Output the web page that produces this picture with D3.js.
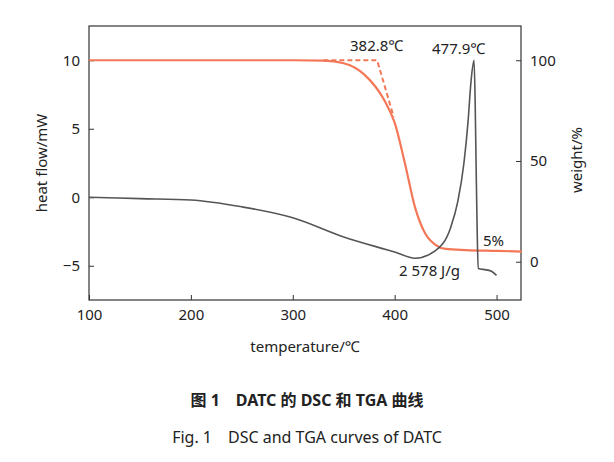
<!DOCTYPE html><html><head><meta charset="utf-8"><script src="https://cdn.jsdelivr.net/npm/d3@7"></script>
<style>body{margin:0;background:#fff}text{font-family:"Noto Sans","Noto Sans CJK SC",sans-serif;fill:#222}</style></head><body><svg id="c" width="614" height="462"></svg><script>
const dscT=[100,150,200,250,300,350,400,420,440,455,462,468,472,475,477.9,479,480,481,482,490,495,500];
const dscV=[0,-0.1,-0.2,-0.7,-1.5,-2.9,-4.0,-4.45,-3.9,-2.2,-0.3,2.5,5.5,8.5,10,7,2,-2.5,-5.2,-5.3,-5.4,-5.7];
const tgaT=[100,200,300,330,350,370,390,400,410,420,430,440,450,470,500,525];
const tgaV=[100,100,100,99.8,98.5,93,80,69,49,27,14,8.4,6.4,5.8,5.4,5];
const tanT=[330,382.8,399];const tanV=[100,100,72];
const xTicks=[100,200,300,400,500],yLTicks=[-5,0,5,10],yRTicks=[0,50,100];
const svg=d3.select("#c");
const x=d3.scaleLinear().domain([100,524]).range([89,521]);
const yL=d3.scaleLinear().domain([-7.5,12.5]).range([300,26]);
const yR=d3.scaleLinear().domain([-19,117]).range([300,26]);
const g=svg.append("g");
g.append("rect").attr("x",89).attr("y",26).attr("width",432).attr("height",274).attr("fill","none").attr("stroke","#333").attr("stroke-width",1.2);
const ax=d3.axisBottom(x).tickValues(xTicks).tickSizeInner(-5).tickSizeOuter(0).tickPadding(9);
const ga=g.append("g").attr("transform","translate(0,300)").call(ax);
const al=g.append("g").attr("transform","translate(89,0)").call(d3.axisLeft(yL).tickValues(yLTicks).tickSizeInner(-5).tickSizeOuter(0).tickPadding(9));
const ar=g.append("g").attr("transform","translate(521,0)").call(d3.axisRight(yR).tickValues(yRTicks).tickSizeInner(-5).tickSizeOuter(0).tickPadding(9));
[ga,al,ar].forEach(a=>{a.select(".domain").remove();a.selectAll("line").attr("stroke","#333");a.selectAll("text").style("font-size","15px").attr("fill","#222");});
const col="#f47858";
const ln=(ys)=>d3.line().x(d=>x(d[0])).y(d=>ys(d[1])).curve(d3.curveMonotoneX);
g.append("path").attr("d",ln(yR)(tgaT.map((t,i)=>[t,tgaV[i]]))).attr("fill","none").attr("stroke",col).attr("stroke-width",2.2);
g.append("path").attr("d",d3.line().x(d=>x(d[0])).y(d=>yR(d[1]))(tanT.map((t,i)=>[t,tanV[i]]))).attr("fill","none").attr("stroke",col).attr("stroke-width",2).attr("stroke-dasharray","5,3");
g.append("path").attr("d",d3.line().x(d=>x(d[0])).y(d=>yL(d[1])).curve(d3.curveMonotoneX)(dscT.map((t,i)=>[t,dscV[i]]))).attr("fill","none").attr("stroke","#555").attr("stroke-width",1.6);
const t=(s,xx,yy,sz,a,extra)=>{const e=svg.append("text").attr("x",xx).attr("y",yy).style("font-size",sz+"px").attr("text-anchor",a||"start").text(s);return e;};
t("382.8℃",350,51,15);t("477.9℃",432,54,15);t("5%",483,246,15);t("2 578 J/g",399,276,15);
t("temperature/℃",305,352,15,"middle");
t("heat flow/mW",0,0,15,"middle").attr("transform","translate(47,163) rotate(-90)");
t("weight/%",0,0,15,"middle").attr("transform","translate(582,160) rotate(-90)");
t("图 1　DATC 的 DSC 和 TGA 曲线",307,406,16,"middle").style("font-weight","bold");
t("Fig. 1　DSC and TGA curves of DATC",307,443,16,"middle");
</script></body></html>
